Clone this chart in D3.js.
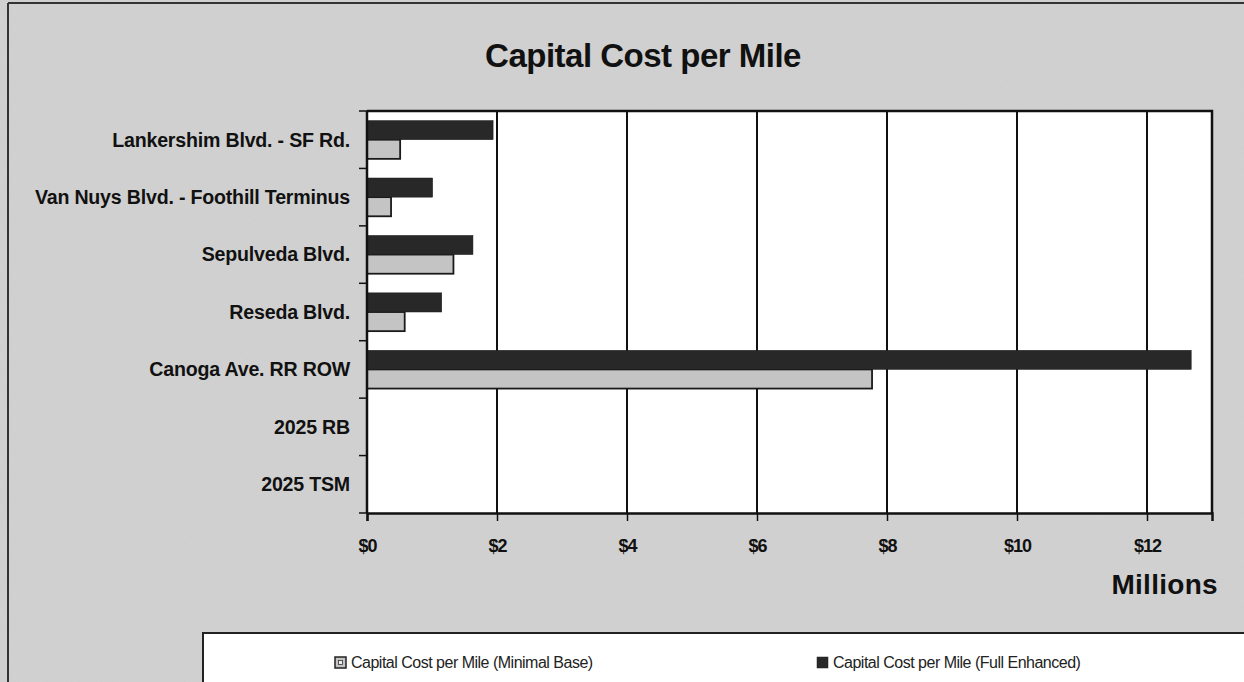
<!DOCTYPE html>
<html>
<head>
<meta charset="utf-8">
<script src="https://cdn.jsdelivr.net/npm/d3@7/dist/d3.min.js"></script>
<style>
  html, body { margin: 0; padding: 0; background: #d5d5d5; }
  svg { display: block; }
</style>
</head>
<body>
<svg id="chart" width="1244" height="682"></svg>
<script>
// Corridor alternatives, top to bottom
const categories = [
  "Lankershim Blvd. - SF Rd.",
  "Van Nuys Blvd. - Foothill Terminus",
  "Sepulveda Blvd.",
  "Reseda Blvd.",
  "Canoga Ave. RR ROW",
  "2025 RB",
  "2025 TSM"
];
// Capital cost per mile, millions of dollars (null = no bar)
const minimalBase  = [0.51, 0.37, 1.33, 0.58, 7.77, null, null];
const fullEnhanced = [1.94, 1.01, 1.63, 1.15, 12.68, null, null];
const seriesNames  = ["Capital Cost per Mile (Minimal Base)", "Capital Cost per Mile (Full Enhanced)"];
const xTicks       = [0, 2, 4, 6, 8, 10, 12];

const FONT = "'Liberation Sans', Arial, sans-serif";
const svg = d3.select("#chart");
const W = 1244, H = 682;
const plot = { left: 367, right: 1212, top: 111, bottom: 513 };
const colors = ["#c4c4c4", "#282828"];

// grainy paper background
const defs = svg.append("defs");
const grain = defs.append("filter").attr("id", "grain").attr("x", 0).attr("y", 0).attr("width", "100%").attr("height", "100%");
grain.append("feTurbulence").attr("type", "fractalNoise").attr("baseFrequency", 0.9).attr("numOctaves", 2).attr("seed", 4).attr("result", "n");
grain.append("feColorMatrix").attr("in", "n").attr("type", "matrix")
  .attr("values", "0 0 0 0 0.5  0 0 0 0 0.5  0 0 0 0 0.5  0 0 0 0.35 0");

svg.append("rect").attr("width", W).attr("height", H).attr("fill", "#d2d2d2");
svg.append("rect").attr("width", W).attr("height", H).attr("filter", "url(#grain)").attr("opacity", 0.5);

// outer frame lines
svg.append("line").attr("x1", 8).attr("x2", W).attr("y1", 3).attr("y2", 3).attr("stroke", "#333").attr("stroke-width", 2);
svg.append("line").attr("x1", 8).attr("x2", 8).attr("y1", 3).attr("y2", H).attr("stroke", "#333").attr("stroke-width", 2);

const x = d3.scaleLinear().domain([0, 13]).range([plot.left, plot.right]);
const y = d3.scaleBand().domain(categories).range([plot.top, plot.bottom]).paddingInner(0).paddingOuter(0);
// series 0 (Minimal Base) sits below series 1 inside each band
const inner = d3.scaleBand().domain([1, 0]).range([0, y.bandwidth()]).paddingOuter(0.5).paddingInner(0);

// plot area
svg.append("rect")
  .attr("x", plot.left).attr("y", plot.top)
  .attr("width", plot.right - plot.left).attr("height", plot.bottom - plot.top)
  .attr("fill", "#fff");

// vertical gridlines
svg.append("g").attr("shape-rendering", "crispEdges")
  .selectAll("line").data(xTicks.filter(d => d > 0)).join("line")
  .attr("x1", d => Math.round(x(d))).attr("x2", d => Math.round(x(d)))
  .attr("y1", plot.top).attr("y2", plot.bottom)
  .attr("stroke", "#111").attr("stroke-width", 1.5);

// plot border (top and right)
svg.append("path")
  .attr("d", `M${plot.left},${plot.top}H${plot.right}V${plot.bottom}`)
  .attr("fill", "none").attr("stroke", "#111").attr("stroke-width", 2.5);

// bars
const rows = categories.map((c, i) => ({ c, vals: [minimalBase[i], fullEnhanced[i]] }));
const g = svg.append("g");
rows.forEach(r => {
  r.vals.forEach((v, s) => {
    if (v == null) return;
    g.append("rect")
      .attr("x", x(0))
      .attr("y", y(r.c) + inner(s))
      .attr("width", x(v) - x(0))
      .attr("height", inner.bandwidth())
      .attr("fill", colors[s])
      .attr("stroke", "#1a1a1a")
      .attr("stroke-width", s === 0 ? 1.8 : 0.5);
  });
});

// x axis
const xAxis = svg.append("g").attr("transform", `translate(0,${plot.bottom})`)
  .call(d3.axisBottom(x).tickValues(xTicks).tickSize(8).tickPadding(18).tickFormat(d => "$" + d));
xAxis.select(".domain").attr("stroke", "#111").attr("stroke-width", 2.5);
xAxis.selectAll(".tick line").attr("stroke", "#111").attr("stroke-width", 1.5);
xAxis.selectAll("text")
  .attr("font-family", FONT)
  .attr("font-weight", "bold").attr("font-size", 18).attr("fill", "#111")
  .attr("letter-spacing", "-1px");

// y axis: ticks on band boundaries, labels centred in bands
svg.append("line").attr("x1", plot.left).attr("x2", plot.left)
  .attr("y1", plot.top).attr("y2", plot.bottom).attr("stroke", "#111").attr("stroke-width", 2.5);
const bounds = d3.range(categories.length + 1).map(i => plot.top + i * y.step());
svg.append("g").selectAll("line").data(bounds).join("line")
  .attr("x1", plot.left - 8).attr("x2", plot.left)
  .attr("y1", d => d).attr("y2", d => d)
  .attr("stroke", "#111").attr("stroke-width", 1.5);
svg.append("g").selectAll("text").data(categories).join("text")
  .attr("x", plot.left - 17)
  .attr("y", d => y(d) + y.bandwidth() / 2)
  .attr("dy", "0.35em")
  .attr("text-anchor", "end")
  .attr("font-family", FONT)
  .attr("font-weight", "bold").attr("font-size", 19.6).attr("fill", "#111")
  .attr("letter-spacing", "-0.2px")
  .text(d => d);

// title
svg.append("text").attr("x", 643).attr("y", 67).attr("text-anchor", "middle")
  .attr("font-family", FONT)
  .attr("font-weight", "bold").attr("font-size", 33).attr("fill", "#111")
  .attr("letter-spacing", "-0.5px")
  .text("Capital Cost per Mile");

// axis unit
svg.append("text").attr("x", 1218).attr("y", 594).attr("text-anchor", "end")
  .attr("font-family", FONT)
  .attr("font-weight", "bold").attr("font-size", 28).attr("fill", "#111")
  .attr("letter-spacing", "0.3px")
  .text("Millions");

// legend box
const lg = svg.append("g");
lg.append("rect").attr("x", 203).attr("y", 633).attr("width", W - 203 + 5).attr("height", 60)
  .attr("fill", "#fff").attr("stroke", "#222").attr("stroke-width", 2);
const legendX = [335, 817];
seriesNames.forEach((name, s) => {
  lg.append("rect").attr("x", legendX[s]).attr("y", 657).attr("width", 11).attr("height", 11)
    .attr("fill", colors[s]).attr("stroke", "#222").attr("stroke-width", s === 0 ? 1.5 : 0.5);
  if (s === 0) {
    lg.append("rect").attr("x", legendX[s] + 3.5).attr("y", 660.5).attr("width", 4).attr("height", 4)
      .attr("fill", "#eee").attr("stroke", "#333").attr("stroke-width", 0.8);
  }
  lg.append("text").attr("x", legendX[s] + 16).attr("y", 668)
    .attr("font-family", FONT)
    .attr("font-size", 16).attr("fill", "#222").attr("letter-spacing", "-0.5px")
    .text(name);
});
</script>
</body>
</html>
